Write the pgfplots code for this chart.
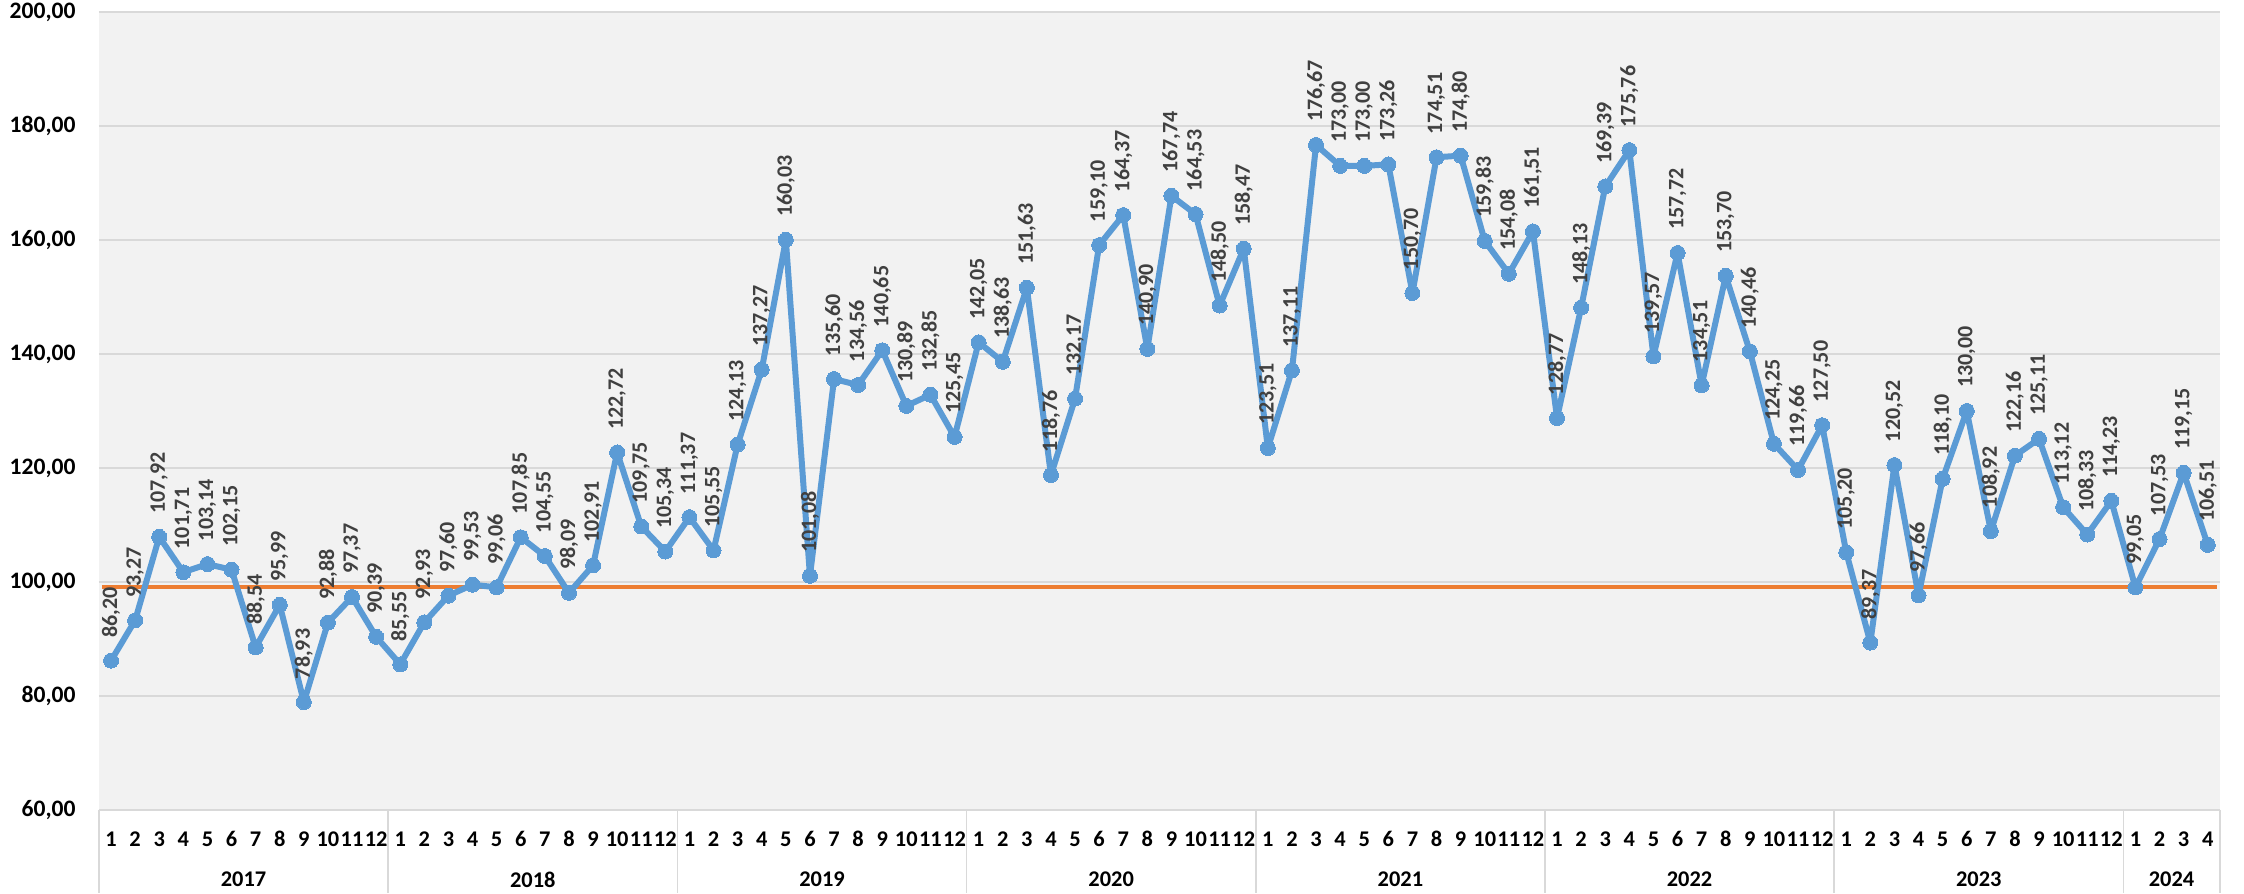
\documentclass[border=0pt]{standalone}
\usepackage{pgfplots}
\pgfplotsset{compat=1.18}
\usepackage{fontspec}
\setmainfont{Carlito}
\newfontfamily\lab{Carlito}
\definecolor{serblue}{HTML}{5B9BD5}
\definecolor{serorange}{HTML}{ED7D31}
\definecolor{plotbg}{HTML}{F2F2F2}
\definecolor{gridc}{HTML}{D9D9D9}
\definecolor{labc}{HTML}{404040}
\begin{document}
\begin{tikzpicture}
\begin{axis}[
  at={(0,0)}, anchor=south west,
  scale only axis,
  width=1060.5pt, height=399pt,
  xmin=0.5, xmax=88.5,
  ymin=60, ymax=200,
  ytick={60,80,...,200},
  xtick={1,...,88},
  xticklabels={1,2,3,4,5,6,7,8,9,10,11,12,1,2,3,4,5,6,7,8,9,10,11,12,1,2,3,4,5,6,7,8,9,10,11,12,1,2,3,4,5,6,7,8,9,10,11,12,1,2,3,4,5,6,7,8,9,10,11,12,1,2,3,4,5,6,7,8,9,10,11,12,1,2,3,4,5,6,7,8,9,10,11,12,1,2,3,4},
  major tick length=0pt,
  axis line style={draw=none},
  axis background/.style={fill=plotbg},
  ymajorgrids,
  grid style={gridc, line width=0.75pt},
  /pgf/number format/assume math mode=true,
  yticklabel style={font=\bfseries\fontsize{11.8}{11.8}\selectfont, anchor=east, inner sep=0pt, xshift=-11.5pt,
    /pgf/number format/.cd, fixed, fixed zerofill, precision=2, use comma},
  xticklabel style={font=\bfseries\fontsize{11.2}{11.2}\selectfont, anchor=center, yshift=-14.5pt, inner sep=0pt},
  clip=false,
]
\addplot[serorange, line width=2pt] coordinates {(0.62,99.15) (88.38,99.15)};
\addplot[serblue, line width=3pt, line join=round, mark=*, mark size=3.75pt, mark options={fill=serblue, draw=serblue, line width=0pt},
  nodes near coords={\pgfmathprintnumber[fixed,fixed zerofill,precision=2,use comma]{\pgfplotspointmeta}},
  every node near coord/.append style={rotate=90, anchor=west, inner xsep=11.5pt, inner ysep=0pt, text=labc,
    font=\lab\bfseries\fontsize{11}{11}\selectfont}]
coordinates {
(1,86.20) (2,93.27) (3,107.92) (4,101.71) (5,103.14) (6,102.15) (7,88.54) (8,95.99) (9,78.93) (10,92.88) (11,97.37) (12,90.39)
(13,85.55) (14,92.93) (15,97.60) (16,99.53) (17,99.06) (18,107.85) (19,104.55) (20,98.09) (21,102.91) (22,122.72) (23,109.75) (24,105.34)
(25,111.37) (26,105.55) (27,124.13) (28,137.27) (29,160.03) (30,101.08) (31,135.60) (32,134.56) (33,140.65) (34,130.89) (35,132.85) (36,125.45)
(37,142.05) (38,138.63) (39,151.63) (40,118.76) (41,132.17) (42,159.10) (43,164.37) (44,140.90) (45,167.74) (46,164.53) (47,148.50) (48,158.47)
(49,123.51) (50,137.11) (51,176.67) (52,173.00) (53,173.00) (54,173.26) (55,150.70) (56,174.51) (57,174.80) (58,159.83) (59,154.08) (60,161.51)
(61,128.77) (62,148.13) (63,169.39) (64,175.76) (65,139.57) (66,157.72) (67,134.51) (68,153.70) (69,140.46) (70,124.25) (71,119.66) (72,127.50)
(73,105.20) (74,89.37) (75,120.52) (76,97.66) (77,118.10) (78,130.00) (79,108.92) (80,122.16) (81,125.11) (82,113.12) (83,108.33) (84,114.23)
(85,99.05) (86,107.53) (87,119.15) (88,106.51)
};
\pgfplotsinvokeforeach{0.5,12.5,24.5,36.5,48.5,60.5,72.5,84.5,88.5}{
  \draw[gridc, line width=0.75pt] (axis cs:#1,60) -- (axis cs:#1,45.44);
}
\begin{scope}[every node/.style={font=\bfseries\fontsize{11.2}{11.2}\selectfont, anchor=center, inner sep=0pt}]
\node at (axis cs:6.5,47.8) {2017};
\node at (axis cs:18.5,47.8) {2018};
\node at (axis cs:30.5,47.8) {2019};
\node at (axis cs:42.5,47.8) {2020};
\node at (axis cs:54.5,47.8) {2021};
\node at (axis cs:66.5,47.8) {2022};
\node at (axis cs:78.5,47.8) {2023};
\node at (axis cs:86.5,47.8) {2024};
\end{scope}
\end{axis}
\path[use as bounding box] (-49.5pt,-41.5pt) rectangle (1072.5pt,405pt);
\end{tikzpicture}
\end{document}
